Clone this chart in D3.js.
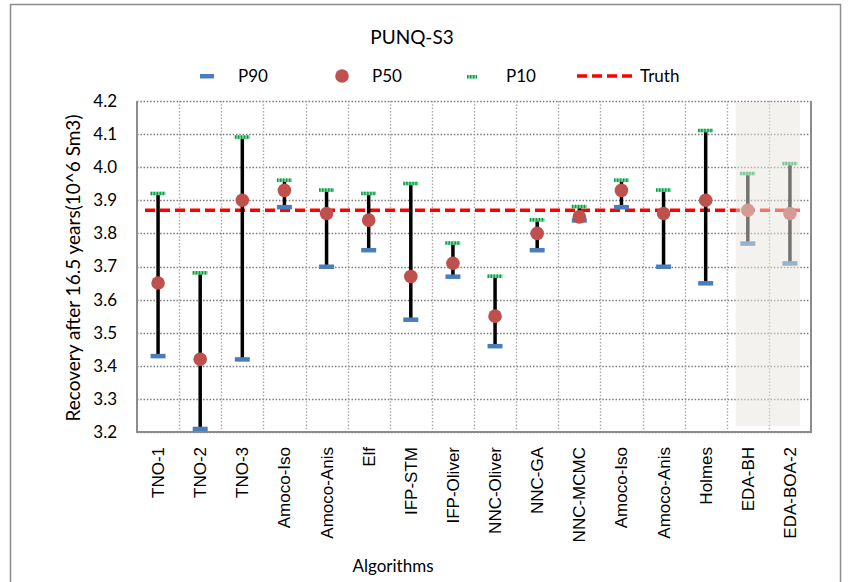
<!DOCTYPE html>
<html>
<head>
<meta charset="utf-8">
<script src="https://cdn.jsdelivr.net/npm/d3@7"></script>
<style>
  html, body { margin: 0; padding: 0; background: #fff; }
  svg { display: block; }
</style>
</head>
<body>
<svg id="chart" width="854" height="582"></svg>
<script>
// Algorithms compared on the PUNQ-S3 case
const algorithms = ["TNO-1", "TNO-2", "TNO-3", "Amoco-Iso", "Amoco-Anis", "Elf", "IFP-STM",
  "IFP-Oliver", "NNC-Oliver", "NNC-GA", "NNC-MCMC", "Amoco-Iso", "Amoco-Anis", "Holmes",
  "EDA-BH", "EDA-BOA-2"];

// Recovery after 16.5 years (10^6 Sm3)
const p10 = [3.92, 3.68, 4.09, 3.96, 3.93, 3.92, 3.95, 3.77, 3.67, 3.84, 3.88, 3.96, 3.93, 4.11, 3.98, 4.01];
const p50 = [3.65, 3.42, 3.90, 3.93, 3.86, 3.84, 3.67, 3.71, 3.55, 3.80, 3.85, 3.93, 3.86, 3.90, 3.87, 3.86];
const p90 = [3.43, 3.21, 3.42, 3.88, 3.70, 3.75, 3.54, 3.67, 3.46, 3.75, 3.84, 3.88, 3.70, 3.65, 3.77, 3.71];
const truth = 3.87;

const yTicks = [3.2, 3.3, 3.4, 3.5, 3.6, 3.7, 3.8, 3.9, 4.0, 4.1, 4.2];
// Categories shaded as the proposed methods
const highlighted = ["EDA-BH", "EDA-BOA-2"];

const svg = d3.select("#chart");
const plot = { left: 137, right: 811, top: 101, bottom: 432 };
const labelFont = "Lato, 'Open Sans', sans-serif";
const catFont = "'Liberation Sans', Arial, sans-serif";

const x = d3.scaleBand().domain(d3.range(algorithms.length)).range([plot.left, plot.right]).padding(0);
const y = d3.scaleLinear().domain([3.2, 4.2]).range([plot.bottom, plot.top]);

// Outer chart frame
svg.append("rect")
  .attr("x", 10.5).attr("y", 4.5).attr("width", 830).attr("height", 600)
  .attr("fill", "#fff").attr("stroke", "#8c8c8c").attr("stroke-width", 1.5);

// Title
svg.append("text").attr("x", 412).attr("y", 44).attr("text-anchor", "middle")
  .attr("font-family", labelFont).attr("font-size", 19).attr("fill", "#000").text("PUNQ-S3");

// Horizontal grid
svg.append("g").selectAll("line").data(yTicks).join("line")
  .attr("x1", plot.left).attr("x2", plot.right)
  .attr("y1", d => Math.round(y(d)) + 0.5).attr("y2", d => Math.round(y(d)) + 0.5)
  .attr("stroke", "#7a7a7a").attr("stroke-width", 1.4).attr("stroke-dasharray", "1.5,1.8");

// Vertical grid at category boundaries
svg.append("g").selectAll("line").data(d3.range(1, algorithms.length)).join("line")
  .attr("x1", i => Math.round(x(i)) + 0.5).attr("x2", i => Math.round(x(i)) + 0.5)
  .attr("y1", plot.top).attr("y2", plot.bottom)
  .attr("stroke", "#a8a8a8").attr("stroke-width", 1.4).attr("stroke-dasharray", "1.5,1.8");

// Y axis
const yAxis = d3.axisLeft(y).tickValues(yTicks).tickFormat(d3.format(".1f")).tickSize(0).tickPadding(20);
const gy = svg.append("g").attr("transform", `translate(${plot.left},0)`).call(yAxis);
gy.select(".domain").remove();
gy.selectAll("text").attr("font-family", labelFont).attr("font-size", 17).attr("fill", "#000");

// X axis
const xAxis = d3.axisBottom(x).tickSize(0).tickFormat(i => algorithms[i]);
const gx = svg.append("g").attr("transform", `translate(0,${plot.bottom})`).call(xAxis);
gx.select(".domain").remove();
gx.selectAll("text")
  .attr("font-family", catFont).attr("font-size", 17).attr("fill", "#000")
  .attr("transform", "rotate(-90)")
  .attr("text-anchor", "end")
  .attr("x", -15).attr("y", 0).attr("dy", "0.35em");

// Plot area border (left, bottom, right)
svg.append("path")
  .attr("d", `M${plot.left},${plot.top}V${plot.bottom}H${plot.right}V${plot.top}`)
  .attr("fill", "none").attr("stroke", "#8c8c8c").attr("stroke-width", 2);

// Truth line
svg.append("line")
  .attr("x1", plot.left + 8).attr("x2", plot.right - 10)
  .attr("y1", y(truth)).attr("y2", y(truth))
  .attr("stroke", "#ff0000").attr("stroke-width", 3.5).attr("stroke-dasharray", "10,5");

// Range whiskers from P90 to P10
const idx = d3.range(algorithms.length);
const cx = i => x(i) + x.bandwidth() / 2;
svg.append("g").selectAll("line").data(idx).join("line")
  .attr("x1", cx).attr("x2", cx)
  .attr("y1", i => y(p90[i])).attr("y2", i => y(p10[i]))
  .attr("stroke", "#000").attr("stroke-width", 3.5);

// P90 markers
svg.append("g").selectAll("rect").data(idx).join("rect")
  .attr("x", i => cx(i) - 7.5).attr("y", i => y(p90[i]) - 2)
  .attr("width", 15).attr("height", 4.5)
  .attr("fill", "#4a7ebb");

// P10 markers
function p10Marker(g, px, py, w) {
  g.append("rect").attr("x", px - w / 2).attr("y", py - 2).attr("width", w).attr("height", 3.5)
    .attr("fill", "#7fd39a");
  g.append("line").attr("x1", px - w / 2).attr("x2", px + w / 2).attr("y1", py - 0.3).attr("y2", py - 0.3)
    .attr("stroke", "#00a046").attr("stroke-width", 3.5).attr("stroke-dasharray", "1.4,1.6");
}
const g10 = svg.append("g");
idx.forEach(i => p10Marker(g10, cx(i), y(p10[i]), 15));

// P50 markers
svg.append("g").selectAll("circle").data(idx).join("circle")
  .attr("cx", cx).attr("cy", i => y(p50[i])).attr("r", 6.8)
  .attr("fill", "#c0504d");

// Shading over the highlighted methods
const hi = highlighted.map(n => algorithms.lastIndexOf(n));
const hx0 = x(d3.min(hi)) + 9, hx1 = x(d3.max(hi)) + x.bandwidth() - 11;
svg.append("rect")
  .attr("x", hx0).attr("y", plot.top + 1).attr("width", hx1 - hx0).attr("height", plot.bottom - plot.top - 7)
  .attr("fill", "#e8e6de").attr("opacity", 0.5);

// Legend
const legY = 76;
const lg = svg.append("g");
lg.append("rect").attr("x", 200).attr("y", legY - 2).attr("width", 14).attr("height", 4.5).attr("fill", "#4a7ebb");
lg.append("text").attr("x", 238).attr("y", legY + 6).text("P90");
lg.append("circle").attr("cx", 342).attr("cy", legY).attr("r", 6.8).attr("fill", "#c0504d");
lg.append("text").attr("x", 372).attr("y", legY + 6).text("P50");
p10Marker(lg, 472, legY + 1, 10);
lg.append("text").attr("x", 506).attr("y", legY + 6).text("P10");
lg.append("line").attr("x1", 577).attr("x2", 635).attr("y1", legY).attr("y2", legY)
  .attr("stroke", "#ff0000").attr("stroke-width", 3.5).attr("stroke-dasharray", "10,5");
lg.append("text").attr("x", 640).attr("y", legY + 6).text("Truth");
lg.selectAll("text").attr("font-family", labelFont).attr("font-size", 17).attr("fill", "#000");

// Axis titles
svg.append("text")
  .attr("transform", `translate(80,268) rotate(-90)`)
  .attr("text-anchor", "middle").attr("font-family", labelFont).attr("font-size", 19).attr("fill", "#000")
  .text("Recovery after 16.5 years(10^6 Sm3)");
svg.append("text").attr("x", 393).attr("y", 572).attr("text-anchor", "middle")
  .attr("font-family", labelFont).attr("font-size", 17).attr("fill", "#000").text("Algorithms");
</script>
</body>
</html>
